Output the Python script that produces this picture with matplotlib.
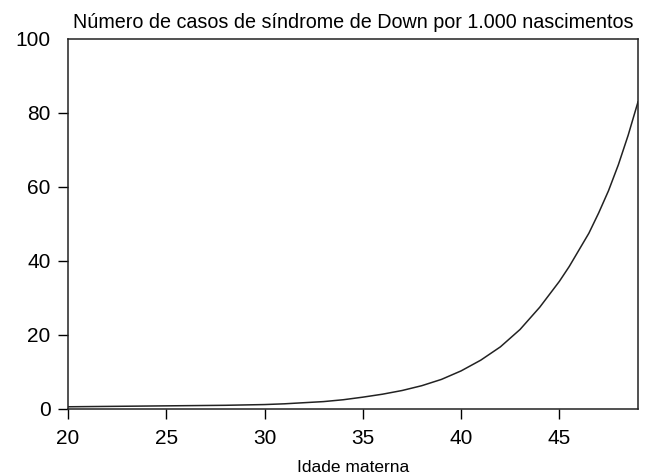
import matplotlib.pyplot as plt

plt.rcParams['font.family'] = ['Liberation Sans', 'DejaVu Sans']

# idade materna x casos por 1.000 nascimentos
idade = [20, 22, 24, 26, 28, 30, 31, 32, 33, 34, 35, 36, 37, 38, 39, 40,
         41, 42, 43, 44, 45, 45.5, 46, 46.5, 47, 47.5, 48, 48.5, 49]
casos = [0.6, 0.7, 0.8, 0.9, 1.0, 1.2, 1.4, 1.7, 2.0, 2.5, 3.2, 4.0, 5.0,
         6.3, 8.0, 10.3, 13.2, 16.8, 21.5, 27.5, 34.5, 38.5, 43.0, 47.5,
         53.0, 59.0, 66.0, 74.0, 83.0]

xticks = [20, 25, 30, 35, 40, 45]
yticks = [0, 20, 40, 60, 80, 100]

fig = plt.figure(figsize=(6.47, 4.75), dpi=100)
ax = fig.add_axes([68 / 647, 1 - 409 / 475, 570 / 647, 370 / 475])

ax.plot(idade, casos, color='#222222', linewidth=1.1)

ax.set_xlim(20, 49)
ax.set_ylim(0, 100)
ax.set_xticks(xticks)
ax.set_yticks(yticks)
ax.tick_params(direction='out', length=7.5, width=1, labelsize=15)
ax.tick_params(axis='x', pad=7)
ax.tick_params(axis='y', pad=5)
ax.yaxis.get_major_ticks()[-1].tick1line.set_visible(False)
for s in ax.spines.values():
    s.set_linewidth(1.1)
    s.set_color('#222222')

ax.set_xlabel('Idade materna', fontsize=12.5)
ax.xaxis.set_label_coords(0.5, -0.137)
ax.set_title('Número de casos de síndrome de Down por 1.000 nascimentos',
             fontsize=14.2, pad=8)

fig.savefig('out.png', dpi=100)
